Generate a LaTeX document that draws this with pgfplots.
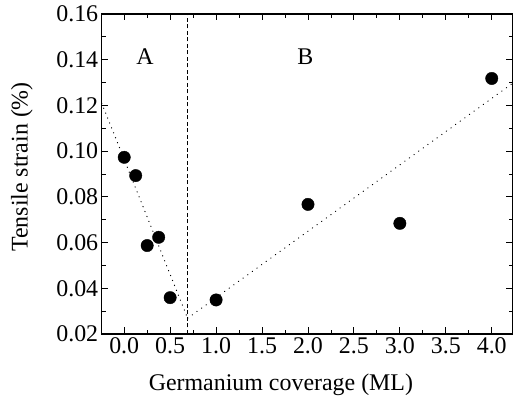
\documentclass[border=0pt]{standalone}
\usepackage{fontspec}
\setmainfont{Liberation Serif}
\usepackage{pgfplots}
\pgfplotsset{compat=1.18}

% Measured tensile strain versus Ge coverage
\pgfplotstableread{
x      y
0.000  0.0973
0.125  0.0893
0.250  0.0587
0.375  0.0623
0.500  0.0359
1.000  0.0349
2.000  0.0767
3.000  0.0684
4.000  0.1318
}\straindata

\begin{document}
\begin{tikzpicture}
\begin{axis}[
  scale only axis,
  width=411bp, height=320bp,
  at={(101.7bp,68bp)}, anchor=south west,
  xmin=-0.245, xmax=4.228,
  ymin=0.02, ymax=0.16,
  xtick={0,0.5,...,4.0},
  ytick={0.02,0.04,...,0.161},
  minor x tick num=1,
  minor y tick num=1,
  tick align=inside,
  major tick length=6.5bp,
  minor tick length=4bp,
  every tick/.style={black, line width=0.9bp},
  axis line style={line width=1.2bp},
  font=\fontsize{24}{28}\selectfont,
  /pgf/number format/assume math mode=true,
  xticklabel style={/pgf/number format/.cd, fixed, fixed zerofill, precision=1},
  yticklabel style={/pgf/number format/.cd, fixed, fixed zerofill, precision=2},
  scaled y ticks=false,
  xlabel={Germanium coverage (ML)},
  ylabel={Tensile strain (\%)},
  xlabel style={at={(axis description cs:0.436,-0.175)}, anchor=base},
  ylabel style={at={(axis description cs:-0.18,0.522)}, anchor=base, rotate=0},
  clip=true,
]
  % linear trends in regimes A and B
  \addplot[black, line width=1.1bp, line cap=round, dash pattern=on 0.3bp off 5bp]
    coordinates {(-0.245,0.1210) (0.69,0.0269)};
  \addplot[black, line width=1.1bp, line cap=round, dash pattern=on 0.3bp off 5.4bp]
    coordinates {(0.69,0.0269) (4.228,0.1297)};
  % boundary between regimes
  \addplot[black, line width=0.9bp, dash pattern=on 4bp off 2.5bp]
    coordinates {(0.69,0.02) (0.69,0.16)};
  % data points
  \addplot[only marks, mark=*, mark size=6.2bp, black, mark options={fill=black}]
    table[x=x, y=y] {\straindata};
  \node[anchor=base] at (axis cs:0.227,0.1377) {A};
  \node[anchor=base] at (axis cs:1.97,0.1377) {B};
\end{axis}
\pgfresetboundingbox
\path (0,0) rectangle (513bp,402bp);
\end{tikzpicture}
\end{document}
